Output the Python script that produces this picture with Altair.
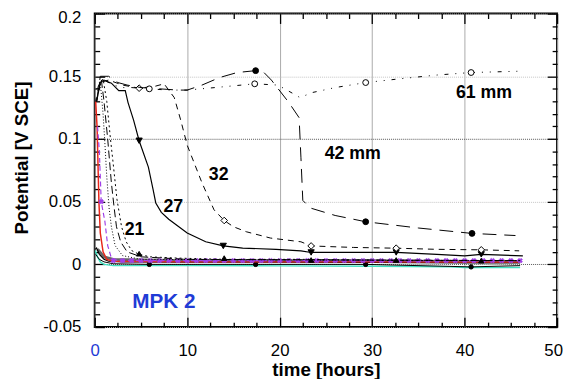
import altair as alt
import pandas as pd

F = "Liberation Sans"
BLUE = "#1f3bd6"

# ---------------- data ----------------
t61 = [0.1, 0.5, 1.0, 2.0, 3.0, 4.0, 5.9, 8.0, 10.0, 13.0, 17.3, 19.8, 21.5, 22.2, 23.5, 26.0, 29.3, 33.0, 37.0, 40.7, 45.7]
v61 = [0.13, 0.145, 0.147, 0.143, 0.141, 0.141, 0.14, 0.139, 0.139, 0.141, 0.144, 0.143, 0.136, 0.133, 0.137, 0.141, 0.145, 0.148, 0.151, 0.153, 0.154]
m61_t = [5.9, 17.3, 29.3, 40.7]
m61_v = [0.14, 0.144, 0.145, 0.153]

t42 = [0.2, 0.6, 1.5, 2.5, 3.5, 5.0, 7.0, 9.0, 10.0, 11.6, 13.5, 15.4, 17.4, 18.3, 19.1, 21.0, 22.1, 22.3, 22.5, 23.3, 26.0, 29.3, 35.0, 40.8, 45.5]
v42 = [0.13, 0.15, 0.15, 0.145, 0.143, 0.141, 0.14, 0.139, 0.139, 0.143, 0.149, 0.153, 0.1545, 0.153, 0.147, 0.129, 0.117, 0.085, 0.051, 0.045, 0.039, 0.034, 0.029, 0.0247, 0.023]
m42_t = [17.4, 29.3, 40.8]
m42_v = [0.1545, 0.034, 0.0247]

t32 = [0.2, 0.6, 1.5, 3.0, 4.8, 6.5, 7.5, 8.6, 9.3, 10.0, 10.8, 11.6, 12.9, 14.0, 15.0, 16.4, 19.0, 22.3, 23.4, 28.0, 32.6, 37.0, 41.8, 45.9]
v32 = [0.13, 0.145, 0.147, 0.143, 0.1405, 0.142, 0.144, 0.133, 0.115, 0.095, 0.08, 0.065, 0.0435, 0.035, 0.03, 0.026, 0.021, 0.018, 0.0147, 0.0135, 0.0129, 0.012, 0.0116, 0.0108]
m32_t = [4.8, 14.0, 23.4, 32.6, 41.8]
m32_v = [0.1405, 0.035, 0.0147, 0.0129, 0.0116]

t27 = [0.2, 0.6, 1.0, 1.8, 2.6, 3.3, 3.6, 4.2, 4.8, 5.8, 6.3, 6.6, 7.2, 8.0, 10.0, 12.0, 13.9, 16.0, 19.6, 22.3, 23.4, 28.0, 32.6, 37.0, 40.0, 41.8, 46.3]
v27 = [0.13, 0.145, 0.147, 0.1445, 0.1385, 0.1385, 0.129, 0.115, 0.0986, 0.0776, 0.06, 0.049, 0.0415, 0.036, 0.025, 0.018, 0.0147, 0.013, 0.012, 0.0108, 0.0095, 0.0095, 0.0095, 0.008, 0.0068, 0.008, 0.0068]
m27_t = [4.8, 13.9, 23.4, 32.6, 41.8]
m27_v = [0.0986, 0.0147, 0.0095, 0.0095, 0.008]

t21 = [0.5, 0.9, 1.3, 1.7, 2.0, 2.4, 2.9, 3.4, 4.0, 4.8, 6.0, 9.0, 14.0, 23.0, 33.0, 46.0]
v21 = [0.143, 0.148, 0.13, 0.1, 0.08, 0.052, 0.03, 0.018, 0.011, 0.008, 0.006, 0.005, 0.004, 0.004, 0.003, 0.003]
m21_t = [4.8, 14.0, 23.4, 32.6, 41.8]
m21_v = [0.0085, 0.005, 0.0035, 0.0035, 0.003]

tld = [0.3, 0.7, 1.0, 1.4, 1.8, 2.1, 2.35, 2.8, 3.5, 5.0, 10.0, 46.0]
vld = [0.14, 0.148, 0.13, 0.1, 0.065, 0.045, 0.03, 0.018, 0.01, 0.006, 0.004, 0.003]

tdo = [0.2, 0.6, 0.9, 1.07, 1.3, 1.55, 1.8, 2.2, 3.0, 5.0, 46.0]
vdo = [0.14, 0.145, 0.12, 0.1, 0.07, 0.045, 0.03, 0.015, 0.007, 0.004, 0.003]

t_red = [0.1, 0.25, 0.35, 0.45, 0.6, 0.9, 1.3, 2.0, 10.0, 20.0, 30.0, 40.0, 46.0]
v_red = [0.13, 0.11, 0.08, 0.05, 0.025, 0.01, 0.004, 0.0025, 0.002, 0.002, 0.002, 0.0018, 0.0018]

t_pur = [0.3, 0.5, 0.7, 1.1, 1.4, 1.8, 2.5, 46.0]
v_pur = [0.11, 0.09, 0.05, 0.034, 0.015, 0.005, 0.003, 0.003]
mp_t = [0.7, 2, 3, 4, 5, 6, 7, 8, 9, 10, 11, 12, 13, 14, 15, 16, 17, 18, 19, 20, 21, 22, 23, 24, 25, 26, 27, 28, 29, 30,
        31, 32, 33, 34, 35, 36, 37, 38, 39, 40, 41, 42, 43, 44, 45, 46]
mp_v = [0.05] + [0.003] * 45

t_cy = [0.05, 0.3, 0.6, 1.0, 2.0, 10.0, 20.0, 30.0, 38.0, 40.0, 46.0]
v_cy = [0.011, 0.006, 0.002, 0.0, -0.001, -0.001, -0.0012, -0.0015, -0.0018, -0.0025, -0.0025]

t_bc = [0.1, 0.5, 1.0, 2.0, 5.9, 17.4, 29.3, 40.7, 46.0]
v_bc = [0.008, 0.004, 0.002, 0.0005, 0.0, 0.0, 0.0, -0.002, -0.001]
mbc_t = [5.9, 17.4, 29.3, 40.7]
mbc_v = [0.0, 0.0, 0.0, -0.002]

t_gr = [0.3, 1.0, 2.0, 5.0, 10.0, 20.0, 30.0, 40.0, 46.0]
v_gr = [0.012, 0.006, 0.004, 0.0035, 0.003, 0.003, 0.003, 0.0022, 0.0022]

t_bk = [0.05, 0.2, 0.5, 1.0, 1.5, 3.0, 10.0, 20.0, 30.0, 40.0, 46.0]
v_bk = [0.012, 0.013, 0.008, 0.004, 0.0025, 0.002, 0.0018, 0.0018, 0.0015, 0.0012, 0.0012]

lab_text = ["61 mm", "42 mm", "32", "27", "21"]
lab_t = [42.1, 27.9, 13.4, 8.5, 4.3]
lab_v = [0.137, 0.0876, 0.071, 0.046, 0.0273]

x_major = [0, 10, 20, 30, 40, 50]
x_minor = [2.5, 5, 7.5, 12.5, 15, 17.5, 22.5, 25, 27.5, 32.5, 35, 37.5, 42.5, 45, 47.5]
y_major = [-0.05, 0, 0.05, 0.1, 0.15, 0.2]
y_minor = [-0.04, -0.03, -0.02, -0.01, 0.01, 0.02, 0.03, 0.04, 0.06, 0.07, 0.08, 0.09,
           0.11, 0.12, 0.13, 0.14, 0.16, 0.17, 0.18, 0.19]

# ---------------- chart ----------------
xs = alt.Scale(domain=[0, 50], nice=False, zero=False)
ys = alt.Scale(domain=[-0.05, 0.2], nice=False, zero=False)
X = alt.X("t:Q", scale=xs, axis=None)
Y = alt.Y("v:Q", scale=ys, axis=None)


def line(t, v, color, dash=None, width=1.0):
    kw = dict(color=color, strokeWidth=width, clip=True)
    if dash:
        kw["strokeDash"] = dash
    return alt.Chart(pd.DataFrame({"t": t, "v": v})).mark_line(**kw).encode(x=X, y=Y)


def pts(t, v, shape, fill, stroke="black", size=30, angle=0, sw=1.0):
    return alt.Chart(pd.DataFrame({"t": t, "v": v})).mark_point(
        shape=shape, filled=True, fill=fill, stroke=stroke, strokeWidth=sw,
        size=size, opacity=1, angle=angle, clip=True
    ).encode(x=X, y=Y)


layers = [
    line(t_cy, v_cy, "#3ee0c0", width=1.5),
    line(t_gr, v_gr, "#666666", width=3),
    line(t_bc, v_bc, "black", width=1.0),
    pts(mbc_t, mbc_v, "circle", "black", size=20),
    line(t_bk, v_bk, "black", width=1.2),
    line(t_red, v_red, "#e8261a", width=1.5),
    line(t_pur, v_pur, "#a040e8", dash=[5, 3], width=1.2),
    pts(mp_t, mp_v, "cross", "#a040e8", stroke="#a040e8", size=25, angle=45, sw=0.5),
    line(tdo, vdo, "black", dash=[1, 2], width=1.0),
    line(tld, vld, "black", dash=[8, 4], width=1.0),
    line(t21, v21, "black", dash=[2, 3], width=1.0),
    pts(m21_t, m21_v, "triangle-up", "black", size=30),
    line(t27, v27, "black", width=1.2),
    pts(m27_t, m27_v, "triangle-down", "black", size=40),
    line(t32, v32, "black", dash=[6, 5], width=1.0),
    pts(m32_t, m32_v, "diamond", "white", size=45),
    line(t42, v42, "black", dash=[14, 8], width=1.0),
    pts(m42_t, m42_v, "circle", "black", size=35),
    line(t61, v61, "black", dash=[4, 7, 1, 7, 1, 7], width=1.0),
    pts(m61_t, m61_v, "circle", "white", size=35),
]

labels_df = pd.DataFrame({"t": lab_t, "v": lab_v, "s": lab_text})
layers.append(
    alt.Chart(labels_df).mark_text(font=F, fontWeight="bold", fontSize=18, color="black",
                                   align="center", baseline="middle")
    .encode(x=X, y=Y, text="s:N")
)
mpk_df = pd.DataFrame({"t": [7.47], "v": [-0.0298], "s": ["MPK 2"]})
layers.append(
    alt.Chart(mpk_df).mark_text(font=F, fontWeight="bold", fontSize=21, color=BLUE,
                                align="center", baseline="middle")
    .encode(x=X, y=Y, text="s:N")
)

carrier = pd.DataFrame({"t": [0, 50], "v": [-0.05, 0.2]})


def carrier_layer(xaxis, yaxis):
    return alt.Chart(carrier).mark_point(opacity=0).encode(
        x=alt.X("t:Q", scale=xs, axis=xaxis),
        y=alt.Y("v:Q", scale=ys, axis=yaxis),
    )


x_lab = alt.Axis(
    orient="bottom", values=x_major, tickSize=0, domain=False, labelPadding=16,
    labelFont=F, labelFontSize=17, labelFlush=False, labelOverlap=False,
    labelColor={"condition": {"test": "datum.value == 0", "value": BLUE}, "value": "black"},
    labelOffset={"condition": {"test": "datum.value == 50", "value": -4}, "value": 0},
    grid=True, gridColor="#aaaaaa", gridWidth=1,
    title="time [hours]", titleFont=F, titleFontSize=19, titleFontWeight="bold",
    titleColor="black", titleY=34,
)
y_lab = alt.Axis(
    orient="left", values=y_major, tickSize=0, domain=False, labelPadding=14,
    labelFont=F, labelFontSize=17, labelOverlap=False, labelFlush=False,
    labelExpr="toString(datum.value)",
    labelOffset={"condition": {"test": "datum.value == 0.2", "value": 4}, "value": 0},
    grid=True,
    gridColor={"condition": {"test": "datum.value == 0.1 || datum.value == 0", "value": "#555555"}, "value": "#c4c4c4"},
    gridDash=[1, 1], gridWidth=1,
    title="Potential [V SCE]", titleFont=F, titleFontSize=19, titleFontWeight="bold",
    titleColor="black", titleX=-64, titleY=146,
)


def tick_axis(orient, values, size):
    return alt.Axis(orient=orient, values=values, offset=-size, tickSize=size, labels=False,
                    domain=False, grid=False, title=None, tickColor="black", tickWidth=1.3)


layers += [
    carrier_layer(x_lab, y_lab),
    carrier_layer(tick_axis("bottom", x_major, 10), tick_axis("left", y_major, 10)),
    carrier_layer(tick_axis("bottom", x_minor, 5), tick_axis("left", y_minor, 5)),
    carrier_layer(tick_axis("top", x_major, 10), tick_axis("right", y_major, 10)),
    carrier_layer(tick_axis("top", x_minor, 5), tick_axis("right", y_minor, 5)),
]

chart = (
    alt.layer(*layers)
    .resolve_axis(x="independent", y="independent")
    .properties(
        width=469, height=318,
        autosize=alt.AutoSizeParams(type="none"),
        padding={"left": 88, "top": 3, "right": 6, "bottom": 50},
    )
    .configure_view(stroke="black", strokeWidth=2)
)

chart.save("out.html", embed_options={"renderer": "svg", "actions": False})
